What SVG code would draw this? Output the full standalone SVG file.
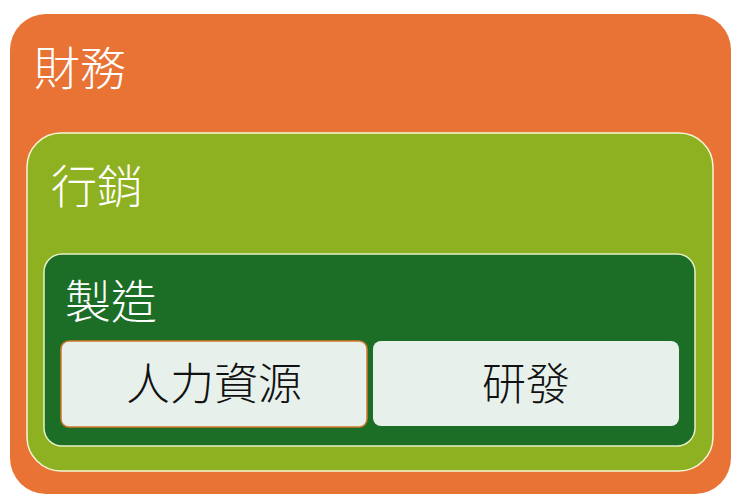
<svg xmlns="http://www.w3.org/2000/svg" width="740" height="502" viewBox="0 0 740 502">
<style>
.lbl{font-family:"Noto Sans CJK TC","Noto Sans CJK SC",sans-serif;font-weight:300;fill:#ffffff;font-size:46px}
.box{font-family:"Noto Sans CJK TC","Noto Sans CJK SC",sans-serif;font-weight:300;fill:#111111;font-size:44px;text-anchor:middle}
</style>
<rect width="740" height="502" fill="#ffffff"/>
<g id="finance">
<rect x="10" y="14" width="721" height="480" rx="36" fill="#e87335"/>
<text class="lbl" x="34" y="85">財務</text>
</g>
<g id="marketing">
<rect x="27" y="133" width="686" height="338" rx="34" fill="#8eb121" stroke="#f4f6d8" stroke-width="1.5"/>
<text class="lbl" x="51" y="203">行銷</text>
</g>
<g id="manufacturing">
<rect x="44" y="254" width="651" height="192" rx="18" fill="#1c6e26" stroke="#e8f0c8" stroke-width="1.5"/>
<text class="lbl" x="65" y="318">製造</text>
</g>
<g id="hr">
<rect x="61" y="341" width="306" height="86" rx="8" fill="#e7f0ea" stroke="#d2782e" stroke-width="1.5"/>
<text class="box" x="214" y="400">人力資源</text>
</g>
<g id="rnd">
<rect x="373" y="341" width="306" height="85" rx="8" fill="#e7f0ea"/>
<text class="box" x="526" y="400">研發</text>
</g>
<g id="connectors"></g>
</svg>
